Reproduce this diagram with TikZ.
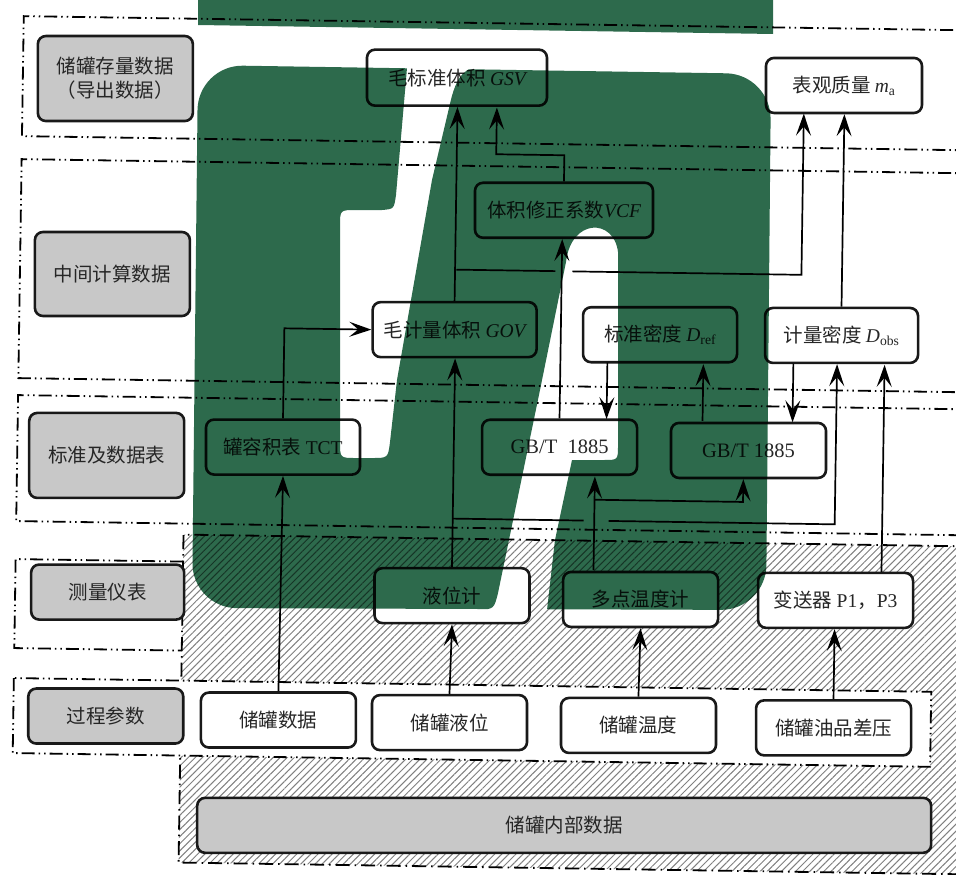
\documentclass[tikz,border=0pt]{standalone}
\usepackage{fontspec}
\setmainfont{Liberation Serif}
\newfontfamily\cjk{Noto Sans CJK SC}
\usetikzlibrary{arrows.meta,patterns.meta,calc}
\definecolor{wmgreen}{RGB}{45,106,76}
\definecolor{lblgray}{RGB}{200,200,200}
\newcommand\fs{\fontsize{19.5}{24}\selectfont}
\tikzset{
  box/.style={draw=black!90, line width=2.6pt, rounded corners=8pt, fill=white,
    minimum width=155pt, minimum height=55pt, inner sep=0pt, font=\fs\cjk, text=black!85},
  lbl/.style={box, fill=lblgray},
  band/.style={line width=1.8pt, dash pattern=on 13pt off 4pt on 1.5pt off 4pt on 1.5pt off 4pt},
  hatchborder/.style={line width=1.8pt, dash pattern=on 14pt off 5pt on 1.5pt off 5pt},
  conn/.style={line width=1.7pt},
  arr/.style={conn, -{Stealth[length=22pt,width=15pt,inset=9pt]}},
}
\begin{document}
\begin{tikzpicture}[x=1pt,y=-1pt]
\useasboundingbox (0,0) rectangle (956,875);
\begin{scope}[rotate around={-0.86:(478,437)}]
  % hatched internal region
  \fill[white] (185,539) rectangle (975,867);
  \fill[pattern={Lines[angle=45,distance=5pt,line width=1pt]}, pattern color=black!50] (185,539) rectangle (975,867);
  \draw[hatchborder] (975,539) -- (185,539) -- (185,867) -- (975,867);
  % bands
  \fill[white] (17.5,685) rectangle (935,760);
  \draw[band] (17.5,685) rectangle (935,760);
  \draw[band] (975,23) -- (17.5,23) -- (17.5,143) -- (975,143);
  \draw[band] (975,166) -- (17.5,166) -- (17.5,385) -- (975,385);
  \draw[band] (975,402) -- (17.5,402) -- (17.5,528) -- (975,528);
  \draw[band] (185,566) -- (17.5,566) -- (17.5,655) -- (185,655);
  % label boxes
  \node[lbl, minimum height=85pt, align=center] (L1) at (110,84) {储罐存量数据\\（导出数据）};
  \node[lbl, minimum height=84pt] (L2) at (110,279.5) {中间计算数据};
  \node[lbl, minimum height=85pt] (L3) at (107,461) {标准及数据表};
  \node[lbl, minimum width=153pt] (L4) at (110,597.6) {测量仪表};
  \node[lbl] (L5) at (110,721.6) {过程参数};
  \node[lbl, minimum width=734pt] (inner) at (570,824) {储罐内部数据};
  % data boxes
  \node[box, minimum width=180pt, minimum height=56pt] (gsv) at (451.6,78) {毛标准体积 {\rmfamily\itshape GSV}};
  \node[box, minimum width=156pt] (ma) at (838.7,80) {表观质量 {\rmfamily\itshape m\textsubscript{\upshape a}}};
  \node[box, minimum width=178pt] (vcf) at (560.6,209) {体积修正系数{\rmfamily\itshape VCF}};
  \node[box, minimum width=164pt] (gov) at (453,330) {毛计量体积 {\rmfamily\itshape GOV}};
  \node[box, minimum width=154pt] (dref) at (658.5,332) {标准密度 {\rmfamily\itshape D\textsubscript{\upshape ref}}};
  \node[box, minimum width=153pt] (dobs) at (840,330) {计量密度 {\rmfamily\itshape D\textsubscript{\upshape obs}}};
  \node[box, minimum width=154pt] (tct) at (283.2,450) {罐容积表 {\rmfamily TCT}};
  \node[box] (gb1) at (559.7,446) {\rmfamily\fontsize{20.5}{24}\selectfont GB/T\ \ 1885};
  \node[box] (gb2) at (748.7,446.4) {\rmfamily\fontsize{20.5}{24}\selectfont GB/T 1885};
  \node[box] (lv) at (454.4,596) {液位计};
  \node[box] (tm) at (643,597) {多点温度计};
  \node[box] (tr) at (838,595) {变送器 {\rmfamily P1}，{\rmfamily P3}};
  \node[box] (d1) at (282.7,723) {储罐数据};
  \node[box] (d2) at (453.8,723) {储罐液位};
  \node[box] (d3) at (642.8,723) {储罐温度};
  \node[box] (d4) at (837.9,722.5) {储罐油品差压};
  % helper coordinates
  \coordinate (jA) at (454,270);
  \coordinate (gA) at (553,270);
  \coordinate (gB) at (570,270);
  \coordinate (mX) at (799,0);
  \coordinate (kC) at (492,154);
  \coordinate (x606) at (606.3,0);
  \coordinate (x702) at (702.3,0);
  \coordinate (x792) at (792.3,0);
  \coordinate (jB) at (454,519);
  \coordinate (gC) at (585,519);
  \coordinate (gD) at (610,519);
  \coordinate (x836) at (836,0);
  \coordinate (x884) at (883.5,0);
  \coordinate (x596) at (595.5,0);
  \coordinate (jC) at (595.5,498);
  \coordinate (x744) at (744,0);
  % connectors
  \draw[arr] (d1.north) -- (tct.south);
  \draw[arr] (tct.north) |- (gov.west);
  \draw[arr] (d2.north) -- (lv.south);
  \draw[arr] (lv.north) -- (lv.north |- gov.south);
  \draw[arr] (gov.north) -- (gov.north |- gsv.south);
  \draw[conn] (jA) -- (gA);
  \draw[arr] (gB) -| (ma.south -| mX);
  \draw[arr] (vcf.north) |- (kC) -- (kC |- gsv.south);
  \draw[arr] (gb1.north) -- (gb1.north |- vcf.south);
  \draw[arr] (dref.south -| x606) -- (gb1.north -| x606);
  \draw[arr] (gb2.north -| x702) -- (dref.south -| x702);
  \draw[arr] (dobs.south -| x792) -- (gb2.north -| x792);
  \draw[conn] (jB) -- (gC);
  \draw[arr] (gD) -| (dobs.south -| x836);
  \draw[arr] (tr.north -| x884) -- (dobs.south -| x884);
  \draw[arr] (dobs.north) -- (dobs.north |- ma.south);
  \draw[arr] (tm.north -| x596) -- (gb1.south -| x596);
  \draw[arr] (jC) -| (gb2.south -| x744);
  \draw[arr] (d3.north) -- (tm.south);
  \draw[arr] (d4.north) -- (d4.north |- tr.south);
\end{scope}
% watermark
\begin{scope}[blend mode=multiply]
  \begin{scope}
    \clip[rounded corners=45pt] (198,65) -- (771,74) -- (766,610) -- (192,608) -- cycle;
    \fill[wmgreen, even odd rule] (150,20) rectangle (800,650)
      (410,40) -- (407,68) -- (396,195) .. controls (394,209) .. (382,210) -- (356,210)
        .. controls (340,210) .. (340,226) -- (340,442) .. controls (340,458) .. (356,458)
        -- (372,458) .. controls (388,458) .. (390,442) -- (397,380) -- (432,180) -- (449,108)
        .. controls (455,80) and (462,68) .. (480,66) -- (482,40) -- cycle
      (470,640) -- (478,610) .. controls (494,609) .. (498,593) -- (540,390) -- (566,262)
        .. controls (571,218) and (614,218) .. (618,252) -- (618,445) .. controls (618,460) .. (604,460)
        -- (572,460) -- (555,540) -- (547,610) -- (545,640) -- cycle;
  \end{scope}
  \fill[wmgreen] (198,-10) -- (773,-10) -- (773,34) -- (198,25) -- cycle;
\end{scope}
\end{tikzpicture}
\end{document}
